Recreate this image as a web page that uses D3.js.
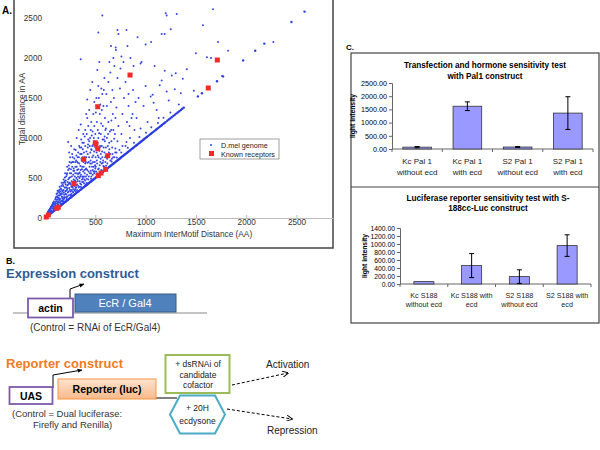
<!DOCTYPE html>
<html><head><meta charset="utf-8">
<script src="https://cdn.jsdelivr.net/npm/d3@7"></script>
<style>body{margin:0;background:#fff}svg{display:block}text{font-family:"Liberation Sans",Arial,Helvetica,sans-serif}</style>
</head><body><svg id="c" width="600" height="450"></svg>
<script>
// ---------- Panel A data ----------
const xTicksA = [500, 1000, 1500, 2000, 2500];
const yTicksA = [0, 500, 1000, 1500, 2000, 2500];
const diagonalValues = [5,12,20,27,35,43,50,57,66,72,80,89,95,104,110,118,126,133,141,148,156,163,171,178,186,192,201,210,221,229,240,251,259,270,281,289,300,311,325,335,349,360,371,385,396,403,409,416,420,428,434,442,451,457,464,472,481,488,494,503,511,518,524,532,541,548,556,562,569,578,586,593,600,609,617,627,637,645,653,663,673,681,689,699,709,717,725,735,745,753,761,771,781,790,799,810,821,830,839,850,861,870,879,890,901,910,919,930,941,950,959,970,981,990,1001,1012,1024,1038,1051,1062,1074,1088,1101,1112,1124,1138,1151,1163,1176,1188,1199,1215,1231,1245,1259,1275,1291,1305,1319,1335,1351,1365,1380,1520,1560,1710,1770,1970,2090,2180,2450,2580];
const genomePoints = [
[20,35],[25,50],[30,45],[35,70],[40,60],[45,90],[50,75],[55,110],[60,95],[65,130],[70,85],[75,150],[80,120],[85,170],[90,105],[95,140],[100,200],[30,80],[50,120],[70,160],[90,180],[60,140],[80,190],[40,100],
[105,160],[110,230],[115,300],[120,180],[125,260],[130,210],[135,330],[140,190],[145,280],[150,240],[155,370],[160,210],[165,310],[170,250],[175,420],[180,230],[185,350],[190,290],[195,460],[200,260],[110,150],[130,170],[150,200],[170,220],[190,240],[120,270],[140,320],[160,360],[180,400],[200,440],[115,210],[135,250],[155,290],[175,330],[195,380],[125,340],[145,390],[165,440],[185,480],[105,250],
[205,300],[210,520],[215,380],[220,270],[225,450],[230,600],[235,330],[240,500],[245,700],[250,290],[255,420],[260,560],[265,350],[270,640],[275,760],[280,320],[285,480],[290,590],[295,400],[300,700],[210,340],[230,420],[250,510],[270,400],[290,460],[220,560],[240,620],[260,690],[280,540],[300,360],[215,250],[235,280],[255,330],[275,380],[295,340],[225,370],[245,440],[265,460],[285,620],[205,420],[250,760],[270,800],[290,860],[240,820],[260,900],[230,950],[200,560],[220,640],[280,700],[300,560],
[305,380],[310,500],[315,640],[320,420],[325,760],[330,550],[335,380],[340,680],[345,460],[350,800],[355,600],[360,420],[365,720],[370,520],[375,860],[380,450],[385,640],[390,760],[395,560],[400,900],[310,720],[330,820],[350,520],[370,640],[390,480],[320,600],[340,900],[360,980],[380,1050],[400,680],[305,850],[325,460],[345,570],[365,800],[385,940],[315,1000],[335,1100],[355,1170],[375,760],[395,1020],[310,380],[330,400],[350,430],[370,450],[390,430],[400,470],[360,880],[340,560],[320,700],[380,580],
[405,520],[410,760],[415,1050],[420,600],[425,880],[430,480],[435,700],[440,960],[445,560],[450,820],[455,1100],[460,520],[465,680],[470,900],[475,600],[480,780],[485,1000],[490,560],[495,700],[500,880],[410,620],[430,980],[450,680],[470,760],[490,1150],[420,1250],[440,1350],[460,1200],[480,1300],[500,1050],[415,490],[435,520],[455,590],[475,540],[495,580],[425,800],[445,900],[465,1030],[485,640],[405,700],[400,1100],[420,1480],[450,1600],[470,1700],[490,1450],[410,1300],[430,1150],[460,860],[480,920],[500,620],
[505,640],[510,900],[515,1200],[520,560],[525,780],[530,1000],[535,620],[540,840],[545,1300],[550,700],[555,1050],[560,600],[565,900],[570,760],[575,1150],[580,650],[585,980],[590,820],[595,1250],[600,700],[510,1500],[530,1650],[550,1420],[570,1550],[590,1750],[520,1850],[540,1950],[560,1620],[580,1400],[600,1100],[515,720],[545,880],[575,690],[595,960],[525,1100],[555,800],[585,1600],[505,1320],[565,1350],[535,1500],
[605,780],[615,1000],[620,680],[630,1200],[640,860],[650,720],[655,1450],[660,960],[670,800],[675,1300],[680,1100],[690,760],[700,1250],[610,1550],[630,1700],[650,1820],[670,1600],[690,1900],[625,900],[645,1080],[665,740],[685,1500],[695,1050],[635,820],[660,1220],[615,1400],[640,1950],[680,2000],[700,870],[605,1120],
[710,1380],[720,960],[730,1150],[745,1620],[760,1050],[770,1300],[785,1500],[800,900],[815,1200],[830,1400],[845,1000],[860,1250],[875,1600],[890,1100],[720,1750],[750,1870],[780,1950],[800,1700],[830,1550],[860,1800],[880,1900],[710,820],[740,850],[770,900],[810,950],[840,1150],[870,1300],[900,1450],[760,2020],[820,2150],[850,2000],[705,2100],[730,2300],[810,2350],[720,2350],[570,2530],[530,2320],[355,1985],[656,2150],[703,2130],
[910,1250],[930,1500],[950,1120],[960,1950],[980,1400],[1000,1650],[1020,1200],[1050,1520],[1070,1540],[1090,1900],[1110,1350],[1130,1250],[1160,1720],[1190,1840],[1210,1580],[1260,1780],[1300,1810],[1330,1420],[1370,1740],[1410,1860],[1000,2170],[1055,2200],[1160,2300],[1200,2560],[1210,2530],[1250,2360],[1310,2550],[920,2260],[1190,2300],[950,1930],[1080,1440],[1140,1660],[1230,1470],[1290,1610],[1350,1560],
[1480,1590],[1500,2060],[1570,2410],[1610,2010],[1670,2610],[1720,2200],[1820,2090],[1650,2000],[1760,1775],[2270,2200],
[22,40],[28,62],[33,52],[38,85],[44,72],[47,110],[52,95],[58,135],[63,88],[67,155],[72,118],[77,175],[82,140],[87,205],[92,128],[97,165],[102,230],[107,180],[112,265],[117,145],[122,310],[127,195],[132,280],[137,160],[142,350],[147,225],[152,300],[157,185],[162,400],[167,270],[172,345],[177,205],[182,440],[187,315],[192,260],[197,505],[202,330],[207,470],[212,295],[217,540],[222,410],[227,320],[232,485],[237,655],[242,375],[247,560],[252,430],[257,610],[262,390],[267,520],[272,700],[277,450],[282,590],[287,405],[292,745],[297,520],[302,640],[307,450],[312,780],[317,560],[322,480],[327,690],[332,610],[337,760],[342,500],[347,880],[352,650],[357,540],[362,740],[367,610],[372,940],[377,500],[382,700],[387,820],[392,600],[397,760],
[405,610],[412,830],[418,540],[423,690],[428,920],[433,580],[438,760],[443,640],[448,1000],[453,720],[458,560],[463,850],[468,640],[473,1080],[478,700],[483,580],[488,830],[493,960],[498,660],[503,760],[508,580],[513,820],[518,680],[523,940],[528,610],[533,760],[538,1060],[543,660],[548,900],[553,740],[558,1180],[563,680],[568,830],[573,980],[578,720],[583,880],[588,640],[593,1020],[598,760],[606,880],[618,740],[627,1050],[638,940],[647,800],[658,1100],[668,880],[678,760],[688,990],[698,820],
[62,70],[108,121],[163,174],[214,229],[258,281],[306,331],[362,385],[413,437],[457,492],[512,545],[563,598],[607,652],[662,707],[714,757],[758,818],[823,877],[884,942],[938,1013],[1004,1066],[1057,1134],[1123,1186],[1178,1254],[1247,1318],
[142,240],[168,300],[188,210],[218,350],[238,430],[263,300],[283,360],[308,410],[328,520],[348,390],[368,480],[388,520],[203,380],[178,260],[153,330],[128,230],[248,350],[273,330],[298,470],[318,350]
];
const receptorPoints = [[845,1787],[1713,1975],[1623,1625],[524,1391],[500,940],[506,922],[524,866],[623,779],[385,733],[603,608],[557,562],[530,529],[288,429],[132,134],[117,121],[33,38],[12,12]];
const legendLabels = ["D.mel genome", "Known receptors"];

// ---------- Panel C data ----------
const palCategories = [["Kc Pal 1","without ecd"],["Kc Pal 1","with ecd"],["S2 Pal 1","without ecd"],["S2 Pal 1","with ecd"]];
const palValues = [70, 1620, 75, 1360];
const palErrors = [25, 165, 20, 620];
const palTicks = [0, 500, 1000, 1500, 2000, 2500];
const lucCategories = [["Kc S188","without ecd"],["Kc S188 with","ecd"],["S2 S188","without ecd"],["S2 S188 with","ecd"]];
const lucValues = [60, 460, 185, 960];
const lucErrors = [0, 300, 170, 270];
const lucTicks = [0, 200, 400, 600, 800, 1000, 1200, 1400];

const svg = d3.select("#c");
const defs = svg.append("defs");
defs.append("marker").attr("id","ah").attr("viewBox","0 0 10 10").attr("refX",9).attr("refY",5)
  .attr("markerWidth",6).attr("markerHeight",6).attr("orient","auto")
  .append("path").attr("d","M0,0 L10,5 L0,10").attr("fill","none").attr("stroke","#000").attr("stroke-width",1.6);
defs.append("marker").attr("id","ahs").attr("viewBox","0 0 10 10").attr("refX",9).attr("refY",5)
  .attr("markerWidth",5).attr("markerHeight",5).attr("orient","auto")
  .append("path").attr("d","M0,1 L10,5 L0,9 Z").attr("fill","#000");
defs.append("clipPath").attr("id","clipA").append("rect").attr("x",40).attr("y",0).attr("width",293).attr("height",222);
const lg = defs.append("linearGradient").attr("id","peach").attr("x1",0).attr("y1",0).attr("x2",0).attr("y2",1);
lg.append("stop").attr("offset","0%").attr("stop-color","#fde3cf");
lg.append("stop").attr("offset","100%").attr("stop-color","#f9b98a");

// ================= Panel A =================
const gA = svg.append("g");
gA.append("path").attr("d","M14,0 V248 H333 V0").attr("fill","none").attr("stroke","#444").attr("stroke-width",1.5);
gA.append("text").attr("x",2).attr("y",14).text("A.").attr("font-weight","bold").attr("font-size",10);
const xA = d3.scaleLinear().domain([0, 2863]).range([45, 333]);
const yA = d3.scaleLinear().domain([0, 2725]).range([218, 0]);
const xAxisA = d3.axisBottom(xA).tickValues(xTicksA).tickSize(0).tickPadding(1).tickFormat(d3.format("d"));
const gx = gA.append("g").attr("transform","translate(0,218)").call(xAxisA);
gx.select(".domain").attr("stroke","#bbb");
gx.selectAll("text").attr("font-size",8.2).attr("fill","#333");
gx.selectAll(".tick").append("line").attr("y2",-3).attr("stroke","#bbb");
const yAxisA = d3.axisLeft(yA).tickValues(yTicksA).tickSize(0).tickPadding(3).tickFormat(d3.format("d"));
const gy = gA.append("g").attr("transform","translate(45,0)").call(yAxisA);
gy.select(".domain").remove();
gy.selectAll("text").attr("font-size",8.2).attr("fill","#333");
gA.append("text").attr("x",189).attr("y",237).attr("text-anchor","middle").attr("font-size",8.3).attr("fill","#333").text("Maximum InterMotif Distance (AA)");
gA.append("text").attr("transform","translate(25,109) rotate(-90)").attr("text-anchor","middle").attr("font-size",8.3).attr("fill","#333").text("Total distance in AA");
const pts = gA.append("g").attr("clip-path","url(#clipA)");
pts.selectAll(".dg").data(diagonalValues).join("circle").attr("cx",d=>xA(d)).attr("cy",d=>yA(d)).attr("r",1.2).attr("fill","#2a3be0");
pts.selectAll(".gp").data(genomePoints).join("circle").attr("cx",d=>xA(d[0])).attr("cy",d=>yA(d[1])).attr("r",1).attr("fill","#3346e6");
pts.selectAll(".rp").data(receptorPoints).join("rect").attr("x",d=>xA(d[0])-2.5).attr("y",d=>yA(d[1])-2.5).attr("width",5).attr("height",5).attr("fill","#f22a2a");
const lgA = gA.append("g");
lgA.append("rect").attr("x",200).attr("y",139).attr("width",79).attr("height",20).attr("fill","#fff").attr("stroke","#888").attr("stroke-width",0.8);
lgA.append("circle").attr("cx",211).attr("cy",145).attr("r",1).attr("fill","#3346e6");
lgA.append("rect").attr("x",209).attr("y",151).attr("width",5).attr("height",5).attr("fill","#f22a2a");
lgA.selectAll(".lt").data(legendLabels).join("text").attr("x",221).attr("y",(d,i)=>148+i*8.5).attr("font-size",7.2).attr("fill","#222").text(d=>d);

// ================= Panel B =================
const gB = svg.append("g");
gB.append("text").attr("x",6).attr("y",264).attr("font-weight","bold").attr("font-size",9).text("B.");
gB.append("text").attr("x",6).attr("y",278).attr("font-weight","bold").attr("font-size",13).attr("fill","#2f5b95").text("Expression construct");
gB.append("line").attr("x1",13).attr("x2",207).attr("y1",313).attr("y2",313).attr("stroke","#888").attr("stroke-width",1);
gB.append("path").attr("d","M70,298 V289 L84,284").attr("fill","none").attr("stroke","#000").attr("stroke-width",1).attr("marker-end","url(#ahs)");
gB.append("rect").attr("x",75).attr("y",294).attr("width",101).attr("height",18).attr("fill","#4f81bd").attr("stroke","#385d8a").attr("stroke-width",1);
gB.append("text").attr("x",125).attr("y",307).attr("text-anchor","middle").attr("font-size",11).attr("fill","#fff").text("EcR / Gal4");
gB.append("rect").attr("x",28).attr("y",298.5).attr("width",45).attr("height",19).attr("fill","#fff").attr("stroke","#7e5aa8").attr("stroke-width",1.8);
gB.append("text").attr("x",50.5).attr("y",312).attr("text-anchor","middle").attr("font-size",10.5).attr("font-weight","bold").text("actin");
gB.append("text").attr("x",30).attr("y",331).attr("font-size",10).attr("fill","#333").text("(Control = RNAi of EcR/Gal4)");

gB.append("text").attr("x",6).attr("y",368).attr("font-weight","bold").attr("font-size",13).attr("fill","#f07c1e").text("Reporter construct");
gB.append("path").attr("d","M53,388 V375 L82,370").attr("fill","none").attr("stroke","#000").attr("stroke-width",1).attr("marker-end","url(#ahs)");
gB.append("line").attr("x1",156).attr("x2",177).attr("y1",398).attr("y2",398).attr("stroke","#000").attr("stroke-width",1);
gB.append("rect").attr("x",58).attr("y",379).attr("width",98).attr("height",20).attr("fill","url(#peach)").attr("stroke","#f79646").attr("stroke-width",1);
gB.append("text").attr("x",107).attr("y",393).attr("text-anchor","middle").attr("font-size",10.5).attr("font-weight","bold").text("Reporter (luc)");
gB.append("rect").attr("x",9.5).attr("y",387).attr("width",43).attr("height",17).attr("fill","#fff").attr("stroke","#7e5aa8").attr("stroke-width",1.8);
gB.append("text").attr("x",31).attr("y",400).attr("text-anchor","middle").attr("font-size",10.5).attr("font-weight","bold").text("UAS");
gB.append("text").attr("x",12).attr("y",417).attr("font-size",9.5).attr("fill","#333").text("(Control = Dual luciferase:");
gB.append("text").attr("x",33).attr("y",428).attr("font-size",9.5).attr("fill","#333").text("Firefly and Renilla)");
gB.append("rect").attr("x",165.5).attr("y",355).attr("width",64).attr("height",38).attr("fill","#fff").attr("stroke","#9bbb59").attr("stroke-width",2);
["+  dsRNAi of","candidate","cofactor"].forEach((t,i)=>gB.append("text").attr("x",198).attr("y",367+i*10.5).attr("text-anchor","middle").attr("font-size",8.5).attr("fill","#222").text(t));
gB.append("path").attr("d","M170,414.5 L180,395.5 L215,395.5 L225,414.5 L215,433.5 L180,433.5 Z").attr("fill","#fff").attr("stroke","#4bacc6").attr("stroke-width",2);
gB.append("text").attr("x",197.5).attr("y",411).attr("text-anchor","middle").attr("font-size",8.5).attr("fill","#222").text("+ 20H");
gB.append("text").attr("x",197.5).attr("y",424).attr("text-anchor","middle").attr("font-size",8.5).attr("fill","#222").text("ecdysone");
gB.append("line").attr("x1",232).attr("y1",385).attr("x2",288).attr("y2",373).attr("stroke","#000").attr("stroke-dasharray","3,2").attr("marker-end","url(#ah)");
gB.append("line").attr("x1",227).attr("y1",409).attr("x2",292).attr("y2",419).attr("stroke","#000").attr("stroke-dasharray","3,2").attr("marker-end","url(#ah)");
gB.append("text").attr("x",266).attr("y",368).attr("font-size",10).attr("fill","#222").text("Activation");
gB.append("text").attr("x",267).attr("y",434).attr("font-size",10).attr("fill","#222").text("Repression");

// ================= Panel C =================
const gC = svg.append("g");
gC.append("text").attr("x",346).attr("y",50).attr("font-weight","bold").attr("font-size",8).text("C.");
gC.append("rect").attr("x",351).attr("y",53).attr("width",248).attr("height",270).attr("fill","none").attr("stroke","#444").attr("stroke-width",1.2);
gC.append("line").attr("x1",351).attr("x2",599).attr("y1",187).attr("y2",187).attr("stroke","#444").attr("stroke-width",1.2);

function barChart(cfg){
  const g = gC.append("g");
  const x = d3.scaleBand().domain(cfg.cats.map((c,i)=>i)).range([cfg.x0,cfg.x1]).paddingInner(cfg.pad).paddingOuter(cfg.pad/2);
  const y = d3.scaleLinear().domain([0,cfg.max]).range([cfg.y0,cfg.yTop]);
  cfg.title.forEach((t,i)=>g.append("text").attr("x",cfg.tx).attr("y",cfg.ty+i*cfg.tdy).attr("text-anchor","middle").attr("font-size",8.2).attr("font-weight","bold").text(t));
  const ya = g.append("g").attr("transform",`translate(${cfg.x0},0)`).call(d3.axisLeft(y).tickValues(cfg.ticks).tickSize(3).tickPadding(2).tickFormat(d3.format(".2f")));
  ya.selectAll("text").attr("font-size",cfg.fs).attr("fill","#000");
  ya.select(".domain").attr("stroke","#666"); ya.selectAll(".tick line").attr("stroke","#666");
  g.append("line").attr("x1",cfg.x0).attr("x2",cfg.x1).attr("y1",cfg.y0).attr("y2",cfg.y0).attr("stroke","#666");
  const step = x.step();
  d3.range(cfg.cats.length+1).forEach(i=>g.append("line").attr("x1",cfg.x0+i*step).attr("x2",cfg.x0+i*step).attr("y1",cfg.y0).attr("y2",cfg.y0+3).attr("stroke","#666"));
  g.append("text").attr("transform",`translate(${cfg.lx},${(cfg.y0+cfg.yTop)/2}) rotate(-90)`).attr("text-anchor","middle").attr("font-size",6.8).attr("font-weight","bold").text("light intensity");
  g.selectAll(".bar").data(cfg.vals).join("rect").attr("x",(d,i)=>x(i)).attr("y",d=>y(d)).attr("width",x.bandwidth()).attr("height",d=>cfg.y0-y(d)).attr("fill","#9999ff").attr("stroke","#333").attr("stroke-width",0.8);
  cfg.vals.forEach((v,i)=>{
    const e = cfg.errs[i]; if(!e) return;
    const cx = x(i)+x.bandwidth()/2;
    g.append("line").attr("x1",cx).attr("x2",cx).attr("y1",y(v+e)).attr("y2",y(Math.max(0,v-e))).attr("stroke","#000");
    [v+e, Math.max(0,v-e)].forEach(w=>g.append("line").attr("x1",cx-2.5).attr("x2",cx+2.5).attr("y1",y(w)).attr("y2",y(w)).attr("stroke","#000"));
  });
  cfg.cats.forEach((c,i)=>c.forEach((t,j)=>g.append("text").attr("x",x(i)+x.bandwidth()/2).attr("y",cfg.cy+j*cfg.cdy).attr("text-anchor","middle").attr("font-size",cfg.cfs).attr("fill","#222").text(t)));
}
barChart({cats:palCategories, vals:palValues, errs:palErrors, ticks:palTicks, max:2500,
  x0:392, x1:593, pad:0.43, y0:149, yTop:83, title:["Transfection and hormone sensitivity test","with Pal1 construct"],
  tx:485, ty:68, tdy:10.5, lx:355, fs:7.2, cy:164, cdy:10.5, cfs:8});
barChart({cats:lucCategories, vals:lucValues, errs:lucErrors, ticks:lucTicks, max:1400,
  x0:400, x1:591, pad:0.58, y0:284, yTop:228, title:["Luciferase reporter sensitivity  test with S-","188cc-Luc construct"],
  tx:488, ty:201, tdy:10, lx:367, fs:6.8, cy:298, cdy:9, cfs:7.2});
</script></body></html>
